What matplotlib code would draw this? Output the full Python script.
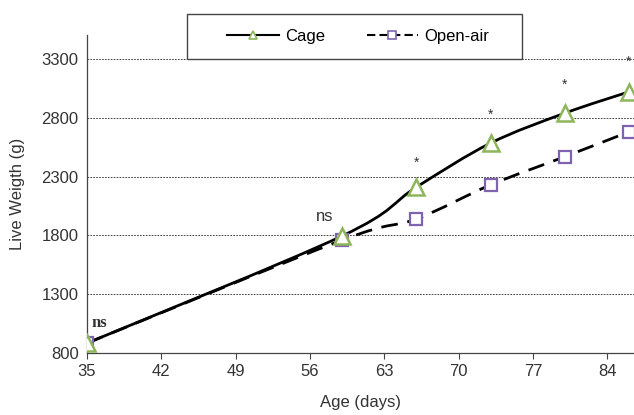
import matplotlib
matplotlib.use("Agg")
import matplotlib.pyplot as plt
from matplotlib.path import Path
from matplotlib.patches import PathPatch, Rectangle
from matplotlib.lines import Line2D
import numpy as np

# chart values
age = [35, 59, 66, 73, 80, 86]
cage = [885, 1795, 2210, 2585, 2840, 3020]
open_air = [885, 1760, 1940, 2230, 2470, 2680]
star_ages = [66, 73, 80, 86]
star_y = [2415, 2825, 3080, 3275]
y_ticks = [800, 1300, 1800, 2300, 2800, 3300]
x_ticks = [35, 42, 49, 56, 63, 70, 77, 84]

plt.rcParams["font.family"] = ["Liberation Sans", "DejaVu Sans"]

green = "#8db65a"
purple = "#7f63b0"


def smooth_path(xs, ys):
    # excel-like smoothed line: bezier segments through the data points
    pts = np.column_stack([xs, ys]).astype(float)
    verts = [pts[0]]
    codes = [Path.MOVETO]
    n = len(pts)
    for i in range(n - 1):
        p0 = pts[max(i - 1, 0)]
        p1 = pts[i]
        p2 = pts[i + 1]
        p3 = pts[min(i + 2, n - 1)]
        c1 = p1 + (p2 - p0) / 6.0
        c2 = p2 - (p3 - p1) / 6.0
        verts += [c1, c2, p2]
        codes += [Path.CURVE4] * 3
    return Path(verts, codes)


fig = plt.figure(figsize=(6.34, 4.15), dpi=100)
ax = fig.add_axes([0.137, 0.149, 0.863, 0.767])

for yt in y_ticks[1:]:
    ax.axhline(yt, color="#222222", lw=0.6, ls=(0, (2, 1.5)), zorder=1)

ax.add_patch(PathPatch(smooth_path(age, cage), fill=False, color="black", lw=2.0, zorder=2))
ax.add_patch(PathPatch(smooth_path(age, open_air), fill=False, color="black", lw=2.0,
                       ls=(0, (6, 3.5)), zorder=2))
ax.plot(age, cage, ls="none", marker="^", ms=11, mfc="white", mec=green, mew=1.8, zorder=4)
ax.plot(age, open_air, ls="none", marker="s", ms=8.5, mfc="white", mec=purple, mew=1.6, zorder=3)

# significance labels
for xa, ya in zip(star_ages, star_y):
    ax.text(xa, ya, "*", ha="center", va="center", fontsize=10, color="#333333")
ax.text(35.4, 1060, "ns", family=["Liberation Serif"], fontweight="bold",
        fontsize=12, color="#333333", ha="left", va="center")
ax.text(58.2, 1965, "ns", fontsize=12, color="#333333", ha="right", va="center")

ax.set_xlim(35, 86.5)
ax.set_ylim(800, 3505)
ax.set_xticks(x_ticks)
ax.set_yticks(y_ticks)
ax.tick_params(axis="both", labelsize=12, labelcolor="#333333", length=4, width=0.8,
               direction="out", color="#444444")
ax.tick_params(axis="y", length=0, pad=6)
for side in ["top", "right"]:
    ax.spines[side].set_visible(False)
for side in ["left", "bottom"]:
    ax.spines[side].set_color("#444444")
    ax.spines[side].set_linewidth(0.9)

ax.set_xlabel("Age (days)", fontsize=12, color="#333333", labelpad=12)
ax.set_ylabel("Live Weigth (g)", fontsize=12, color="#333333", labelpad=12)

# legend box drawn separately so the entries sit centred in a wide frame
fig.patches.append(Rectangle((0.295, 0.858), 0.528, 0.108, transform=fig.transFigure,
                             fill=True, facecolor="white", edgecolor="#444444", lw=1.0,
                             zorder=4))
handles = [
    Line2D([], [], color="black", lw=1.5, marker="^", ms=6, mfc="white", mec=green, mew=1.2),
    Line2D([], [], color="black", lw=1.5, ls=(0, (4, 2)), marker="s", ms=6, mfc="white",
           mec=purple, mew=1.2),
]
leg = fig.legend(handles, ["Cage", "Open-air"], loc="center",
                 bbox_to_anchor=(0.565, 0.912), ncol=2, fontsize=12, frameon=False,
                 handlelength=3.1, handletextpad=0.35, columnspacing=2.5, borderaxespad=0)
leg.set_zorder(5)

plt.savefig("out.png", dpi=100)
